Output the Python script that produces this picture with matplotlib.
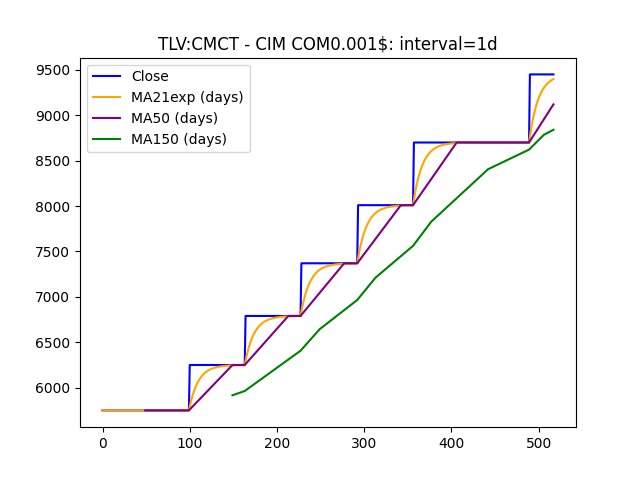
"""Close price with moving averages for TLV:CMCT."""

import numpy as np
import pandas as pd
import matplotlib
matplotlib.use("Agg")
import matplotlib.pyplot as plt

# close price is a step series: level held from each start index
step_starts = [0, 100, 164, 228, 293, 357, 490]
step_levels = [5750, 6250, 6790, 7370, 8010, 8700, 9450]
n_days = 518

symbol = "TLV:CMCT - CIM COM0.001$"
interval = "1d"

# expand steps into daily closes
lengths = np.diff(step_starts + [n_days])
close = pd.Series(np.repeat(step_levels, lengths).astype(float))

ma21exp = close.ewm(span=21).mean()
ma50 = close.rolling(50).mean()
ma150 = close.rolling(150).mean()

fig, ax = plt.subplots(figsize=(6.4, 4.8), dpi=100)
ax.plot(close.index, close, color="blue", label="Close")
ax.plot(ma21exp.index, ma21exp, color="orange", label="MA21exp (days)")
ax.plot(ma50.index, ma50, color="purple", label="MA50 (days)")
ax.plot(ma150.index, ma150, color="green", label="MA150 (days)")

ax.set_title(f"{symbol}: interval={interval}")
ax.legend(loc="upper left")

fig.savefig("out.png")
plt.close(fig)
